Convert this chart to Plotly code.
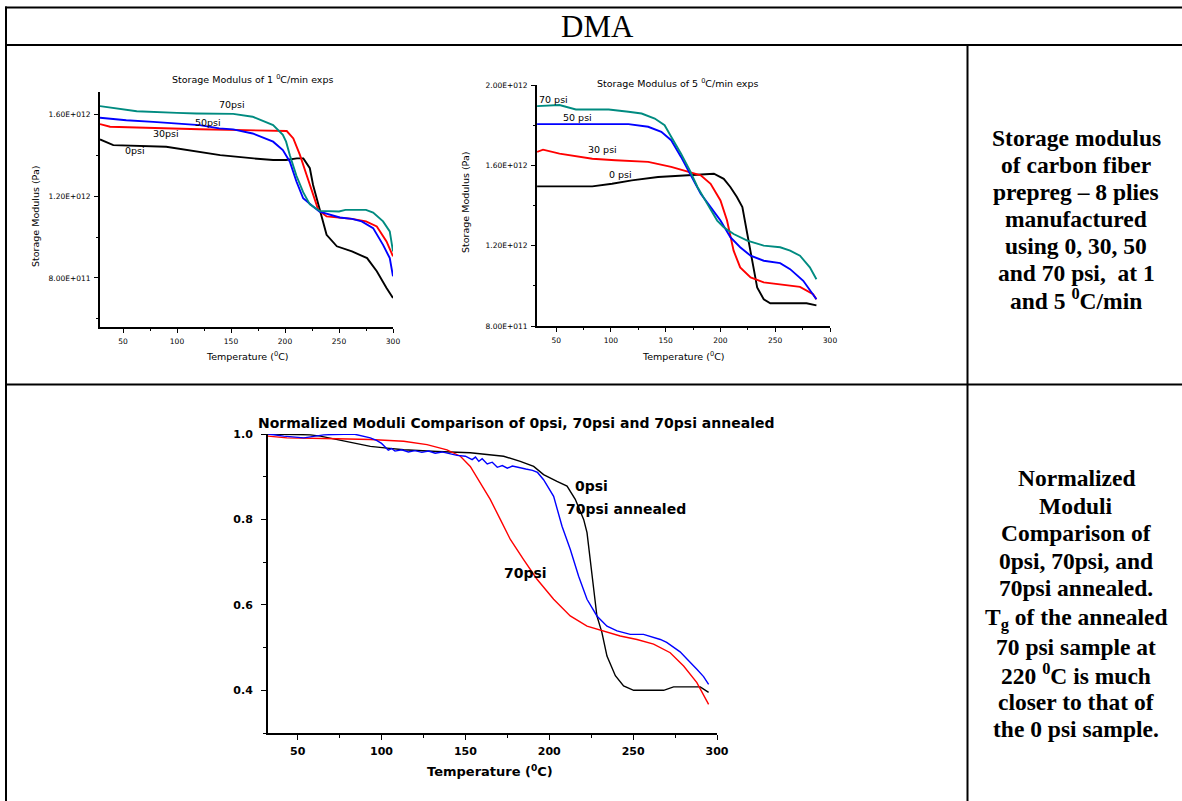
import plotly.graph_objects as go

W, H = 1182, 801
SCALE = 1e12  # Pa

# ---------------- Chart 1: Storage modulus, 1 C/min (values in 1e12 Pa) ----------------
t1_70 = [28.7, 45, 62.7, 100, 118, 152, 170, 189, 198, 201, 204.5, 210.6, 216.8, 223, 232, 250, 256, 275, 281.6, 290.8, 297, 300]
v1_70 = [1.641, 1.63, 1.616, 1.608, 1.605, 1.603, 1.589, 1.548, 1.50, 1.467, 1.40, 1.30, 1.22, 1.16, 1.128, 1.125, 1.133, 1.133, 1.12, 1.077, 1.028, 0.93]
t1_50 = [28.7, 53, 78, 121, 139, 152, 170, 189, 198, 204.5, 210.6, 216.8, 226, 232, 250.7, 262, 271, 281.6, 290.8, 297, 300]
v1_50 = [1.584, 1.572, 1.564, 1.548, 1.532, 1.527, 1.507, 1.467, 1.426, 1.369, 1.272, 1.19, 1.15, 1.125, 1.096, 1.089, 1.077, 1.044, 0.962, 0.897, 0.808]
t1_30 = [28.7, 38, 121, 170, 201.6, 207.7, 213.9, 220, 226.2, 230.8, 238.5, 262, 275, 285, 294, 300]
v1_30 = [1.553, 1.540, 1.528, 1.523, 1.519, 1.483, 1.401, 1.304, 1.206, 1.133, 1.101, 1.089, 1.077, 1.052, 0.979, 0.906]
t1_0 = [28.7, 41, 90, 109, 140, 171, 189, 201, 211, 217, 223, 226, 231, 234, 238.5, 248, 262, 276, 285, 294, 300]
v1_0 = [1.478, 1.45, 1.442, 1.426, 1.401, 1.385, 1.377, 1.377, 1.385, 1.385, 1.337, 1.255, 1.158, 1.093, 1.011, 0.955, 0.93, 0.897, 0.833, 0.751, 0.702]

# ---------------- Chart 2: Storage modulus, 5 C/min (values in 1e12 Pa) ----------------
t2_70 = [32.6, 53, 68, 98, 116, 128, 140, 149, 155, 164, 172, 179, 188, 197, 203, 212, 224.5, 239.5, 254.5, 263.6, 272.6, 281.6, 287.6]
v2_70 = [1.895, 1.90, 1.878, 1.878, 1.867, 1.858, 1.833, 1.80, 1.742, 1.658, 1.575, 1.492, 1.408, 1.325, 1.292, 1.258, 1.225, 1.20, 1.192, 1.175, 1.15, 1.092, 1.033]
t2_50 = [32.6, 116, 134, 146, 155, 164, 173, 182, 191, 200, 209, 218, 227.5, 239.5, 254.5, 263.6, 275.6, 284.6, 287.6]
v2_50 = [1.805, 1.805, 1.792, 1.767, 1.725, 1.642, 1.55, 1.458, 1.392, 1.325, 1.242, 1.192, 1.15, 1.125, 1.113, 1.083, 1.025, 0.958, 0.933]
t2_30 = [32.6, 38, 53, 83, 104, 134, 155, 170, 182, 191, 200, 206, 212, 218, 227.5, 239.5, 254.5, 272.6, 284.6, 287.6]
v2_30 = [1.667, 1.678, 1.658, 1.633, 1.625, 1.617, 1.592, 1.567, 1.55, 1.508, 1.425, 1.325, 1.175, 1.092, 1.042, 1.017, 1.008, 0.995, 0.958, 0.933]
t2_0 = [32.6, 83, 101, 119, 143, 164, 182, 194, 203, 209, 215, 220, 224.5, 229, 233.5, 239.5, 245.5, 278.6, 287.6]
v2_0 = [1.495, 1.495, 1.508, 1.525, 1.542, 1.55, 1.555, 1.558, 1.533, 1.492, 1.442, 1.392, 1.258, 1.125, 0.992, 0.933, 0.913, 0.913, 0.903]

# ---------------- Chart 3: Normalized moduli ----------------
t3_0 = [32.3, 57.6, 63.5, 73.4, 83.4, 93.3, 103.3, 113.2, 133.1, 152.9, 172.8, 182.7, 190.7, 196.6, 204.6, 210.6, 215.5, 220.5, 222.5, 224.5, 226.4, 228.4, 231.4, 234.4, 239.4, 244.3, 250.3, 268.2, 274.1, 290, 295]
n3_0 = [1.0, 0.998, 0.995, 0.987, 0.979, 0.971, 0.967, 0.963, 0.959, 0.956, 0.948, 0.936, 0.924, 0.905, 0.889, 0.878, 0.847, 0.80, 0.769, 0.706, 0.636, 0.574, 0.535, 0.48, 0.434, 0.41, 0.40, 0.40, 0.408, 0.408, 0.395]
t3_ann = [32.3, 41.7, 53.6, 65.5, 83.4, 93.3, 97, 100, 102, 104, 106, 108, 112, 116, 120, 124, 128, 132, 136, 140, 145, 150, 154, 156, 158, 160, 163, 166, 169, 172, 175, 178, 182, 186, 190, 193, 196.6, 202.6, 207.6, 212.5, 217.5, 222.5, 228.4, 234.4, 240.4, 248.3, 256.2, 262, 266.2, 270, 274.1, 278, 282.1, 285, 288, 292, 295]
n3_ann = [1.0, 0.995, 0.991, 0.998, 1.0, 0.991, 0.985, 0.978, 0.970, 0.962, 0.966, 0.960, 0.963, 0.958, 0.961, 0.957, 0.960, 0.955, 0.958, 0.954, 0.950, 0.948, 0.940, 0.946, 0.936, 0.942, 0.930, 0.934, 0.922, 0.926, 0.920, 0.925, 0.921, 0.918, 0.915, 0.910, 0.893, 0.854, 0.784, 0.73, 0.667, 0.613, 0.574, 0.55, 0.539, 0.531, 0.531, 0.524, 0.519, 0.512, 0.50, 0.49, 0.473, 0.462, 0.449, 0.432, 0.414]
t3_70 = [32.3, 43.6, 73.4, 93.3, 113.2, 127.1, 139, 147, 152.9, 158.9, 164.8, 170.8, 176.8, 184.7, 192.7, 202.6, 212.5, 222.5, 232.4, 242.3, 252.3, 262.2, 272.1, 280.1, 288, 295]
n3_70 = [0.995, 0.991, 0.989, 0.987, 0.983, 0.975, 0.963, 0.948, 0.924, 0.885, 0.847, 0.80, 0.753, 0.706, 0.66, 0.613, 0.574, 0.55, 0.539, 0.527, 0.519, 0.508, 0.488, 0.457, 0.418, 0.367]

TEAL, BLUE, RED, BLACK = "#008B80", "#0000FF", "#FF0000", "#000000"

# Storage modulus tick labels
sm1_ticks = [0.8, 1.2, 1.6]
sm1_text = ["8.00E+011", "1.20E+012", "1.60E+012"]
sm2_ticks = [0.8, 1.2, 1.6, 2.0]
sm2_text = ["8.00E+011", "1.20E+012", "1.60E+012", "2.00E+012"]

fig = go.Figure()

def add(x, y, color, xa, ya, width=1.9, scale=1.0):
    fig.add_trace(go.Scatter(x=x, y=[v * scale for v in y], mode="lines",
                             line=dict(color=color, width=width),
                             xaxis=xa, yaxis=ya, showlegend=False, hoverinfo="skip"))

for t, v, c in [(t1_0, v1_0, BLACK), (t1_30, v1_30, RED), (t1_50, v1_50, BLUE), (t1_70, v1_70, TEAL)]:
    add(t, v, c, "x", "y", scale=SCALE)
for t, v, c in [(t2_0, v2_0, BLACK), (t2_30, v2_30, RED), (t2_50, v2_50, BLUE), (t2_70, v2_70, TEAL)]:
    add(t, v, c, "x2", "y2", scale=SCALE)
for t, v, c in [(t3_0, n3_0, BLACK), (t3_70, n3_70, RED), (t3_ann, n3_ann, BLUE)]:
    add(t, v, c, "x3", "y3", width=1.4)

def px(x):
    return x / W

def py(y):
    return 1 - y / H

small = dict(family="DejaVu Sans", size=7.5, color="black")
bold11 = dict(family="DejaVu Sans", size=11, color="black", weight="bold")

def xax(dom, rng, anchor, font, lw=1.8, tl=4, standoff=2):
    return dict(domain=[px(dom[0]), px(dom[1])], range=rng, anchor=anchor,
                showgrid=False, zeroline=False, showline=True, linecolor="black", linewidth=lw,
                ticks="outside", ticklen=tl, tickwidth=1.4, tickcolor="black",
                tick0=50, dtick=50, tickfont=font, ticklabelstandoff=standoff,
                minor=dict(ticks="outside", ticklen=tl * 0.6, tickwidth=1.4, tickcolor="black", dtick=25, tick0=0))

def yax(dom, rng, anchor, font, vals, texts, minor_vals, lw=1.8, tl=4, standoff=2):
    return dict(domain=[py(dom[1]), py(dom[0])], range=rng, anchor=anchor,
                showgrid=False, zeroline=False, showline=True, linecolor="black", linewidth=lw,
                ticks="outside", ticklen=tl, tickwidth=1.4, tickcolor="black",
                tickmode="array", tickvals=vals, ticktext=texts, tickfont=font, ticklabelstandoff=standoff,
                minor=dict(ticks="outside", ticklen=tl * 0.6, tickwidth=1.4, tickcolor="black",
                           tickmode="array", tickvals=minor_vals))

layout = dict(
    width=W, height=H, margin=dict(l=0, r=0, t=0, b=0, autoexpand=False),
    paper_bgcolor="white", plot_bgcolor="white",
    xaxis=xax((100, 393), [28.7, 300], "y", small),
    yaxis=yax((92, 327), [0.56 * SCALE, 1.71 * SCALE], "x", small,
              [v * SCALE for v in sm1_ticks], sm1_text, [v * SCALE for v in [0.6, 1.0, 1.4]]),
    xaxis2=xax((537, 830), [32.5, 300], "y2", small),
    yaxis2=yax((85, 326), [0.8 * SCALE, 2.0 * SCALE], "x2", small,
               [v * SCALE for v in sm2_ticks], sm2_text, [v * SCALE for v in [1.0, 1.4, 1.8]]),
    xaxis3=xax((268, 717), [32.3, 300], "y3", bold11, lw=2, tl=5, standoff=2),
    yaxis3=yax((434, 733), [0.3, 1.0], "x3", bold11, [0.4, 0.6, 0.8, 1.0],
               ["0.4", "0.6", "0.8", "1.0"], [0.3, 0.5, 0.7, 0.9], lw=2, tl=5, standoff=6),
)
fig.update_layout(**layout)

anns = []

def ann(text, x, y, font, angle=0, xanchor="center"):
    anns.append(dict(text=text, x=px(x), y=py(y), xref="paper", yref="paper",
                     showarrow=False, font=font, textangle=angle,
                     xanchor=xanchor, yanchor="middle"))

t9 = dict(family="DejaVu Sans", size=9.5, color="black")
# Chart 1 texts
ann("Storage Modulus of 1 <sup>0</sup>C/min exps", 252, 79, t9)
ann("Storage Modulus (Pa)", 35, 217, t9, angle=-90)
ann("Temperature (<sup>0</sup>C)", 247, 356, t9)
ann("70psi", 232, 105, t9)
ann("50psi", 208, 122, t9)
ann("30psi", 166, 134, t9)
ann("0psi", 135, 150, t9)
# Chart 2 texts
ann("Storage Modulus of 5 <sup>0</sup>C/min exps", 677, 83, t9)
ann("Storage Modulus (Pa)", 466, 203, t9, angle=-90)
ann("Temperature (<sup>0</sup>C)", 683, 356, t9)
ann("70 psi", 553, 100, t9)
ann("50 psi", 577, 117, t9)
ann("30 psi", 602, 149, t9)
ann("0 psi", 620, 175, t9)
# Chart 3 texts
b14 = dict(family="DejaVu Sans", size=14, color="black", weight="bold")
ann("Normalized Moduli Comparison of 0psi, 70psi and 70psi annealed", 516, 423, b14)
ann("0psi", 591, 486, b14)
ann("70psi annealed", 626, 509, b14)
ann("70psi", 525, 573, b14)
ann("Temperature (<sup>0</sup>C)", 490, 771, dict(family="DejaVu Sans", size=13, color="black", weight="bold"))

# Table header and right column text
ann("DMA", 597, 27, dict(family="Liberation Serif", size=31, color="black"))
serif_b = dict(family="Liberation Serif", size=23.5, color="black", weight="bold")
desc1 = ["Storage modulus", "of carbon fiber", "prepreg \u2013 8 plies", "manufactured",
         "using 0, 30, 50", "and 70 psi,  at 1", "and 5 <sup>0</sup>C/min"]
desc2 = ["Normalized", "Moduli", "Comparison of", "0psi, 70psi, and", "70psi annealed.",
         "T<sub>g</sub> of the annealed", "70 psi sample at", "220 <sup>0</sup>C is much",
         "closer to that of", "the 0 psi sample."]
for i, line in enumerate(desc1):
    ann(line, 1076, 138 + i * 26.9, serif_b)
for i, line in enumerate(desc2):
    extra = 3 if i >= 5 else 0
    ann(line, 1076, 478 + i * 27.6 + extra, serif_b)

fig.update_layout(annotations=anns)

# Table borders (drawn as a single open path so no closing edge appears)
shapes = []
def seg(x0, y0, x1, y1):
    shapes.append(dict(type="line", xref="paper", yref="paper", x0=px(x0), x1=px(x1),
                       y0=py(y0), y1=py(y1), line=dict(color="black", width=2)))
seg(5, 7.5, 1190, 7.5)
seg(5, 45, 1190, 45)
seg(5, 384.5, 1190, 384.5)
seg(6, 6.5, 6, 810)
seg(967.5, 45, 967.5, 810)
fig.update_layout(shapes=shapes)

fig.write_html("out.html", post_script="document.body.style.margin='0';document.body.style.overflow='hidden';document.documentElement.style.overflow='hidden';")
